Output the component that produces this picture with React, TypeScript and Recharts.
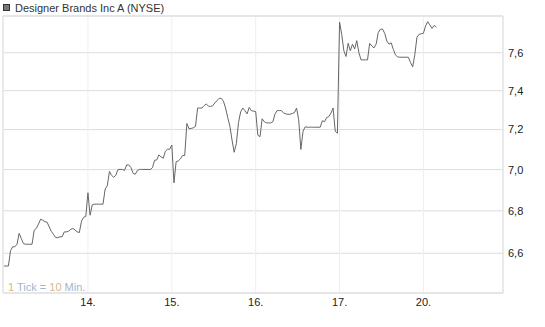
import { LineChart, Line, XAxis, YAxis, CartesianGrid, ReferenceArea } from 'recharts'

// 10-minute ticks, 39 per trading day
const prices = [
  6.541, 6.541, 6.541, 6.612, 6.63, 6.63, 6.642, 6.693, 6.669, 6.645,
  6.642, 6.642, 6.642, 6.642, 6.708, 6.716, 6.737, 6.76, 6.755, 6.748,
  6.746, 6.723, 6.702, 6.688, 6.673, 6.673, 6.677, 6.677, 6.7, 6.7,
  6.703, 6.712, 6.716, 6.709, 6.7, 6.697, 6.751, 6.769, 6.773,
  6.887, 6.779, 6.829, 6.832, 6.832, 6.832, 6.832, 6.832, 6.905, 6.921,
  6.991, 6.972, 6.962, 6.973, 7.001, 7.001, 7.001, 6.996, 7.023, 7.023,
  7.01, 6.982, 6.977, 6.996, 7.001, 7.001, 7.001, 7.001, 7.001, 7.0,
  7.01, 7.046, 7.048, 7.073, 7.063, 7.056, 7.091, 7.101, 7.101,
  7.122, 6.935, 7.039, 7.043, 7.053, 7.07, 7.07, 7.231, 7.204, 7.206,
  7.209, 7.216, 7.31, 7.31, 7.31, 7.322, 7.331, 7.32, 7.318, 7.322,
  7.336, 7.348, 7.36, 7.36, 7.345, 7.31, 7.261, 7.217, 7.147, 7.086,
  7.129, 7.235, 7.29, 7.31, 7.296, 7.28, 7.313, 7.296, 7.294,
  7.292, 7.172, 7.164, 7.255, 7.24, 7.234, 7.234, 7.234, 7.24, 7.28,
  7.297, 7.297, 7.297, 7.284, 7.28, 7.278, 7.278, 7.282, 7.286, 7.31,
  7.25, 7.1, 7.191, 7.214, 7.212, 7.212, 7.212, 7.212, 7.212, 7.212,
  7.212, 7.245, 7.24, 7.261, 7.266, 7.284, 7.31, 7.191, 7.182,
  7.766, 7.699, 7.61, 7.58, 7.651, 7.61, 7.646, 7.62, 7.665, 7.6,
  7.562, 7.562, 7.562, 7.562, 7.65, 7.636, 7.626, 7.646, 7.709, 7.727,
  7.727, 7.704, 7.662, 7.646, 7.653, 7.618, 7.588, 7.578, 7.576, 7.576,
  7.576, 7.576, 7.576, 7.548, 7.525, 7.59, 7.684, 7.699, 7.702,
  7.705, 7.745, 7.768, 7.75, 7.731, 7.748, 7.738,
]

const dayTicks = [39, 78, 117, 156, 195]
const dayLabels = ['14.', '15.', '16.', '17.', '20.']
const priceTicks = [6.6, 6.8, 7.0, 7.2, 7.4, 7.6]

const xDomain: [number, number] = [-0.5, 232]
const yDomain: [number, number] = [6.418, 7.799]

const data = prices.map((price, i) => ({ t: i, price }))

const font = '"Liberation Sans", Arial, sans-serif'

export default function App() {
  return (
    <div style={{ position: 'absolute', left: 0, top: 0, width: 545, height: 327, fontFamily: font, background: '#fff' }}>
      <div style={{ position: 'absolute', left: 3, top: 4, width: 5, height: 5, background: '#777', border: '1px solid #333' }} />
      <div style={{ position: 'absolute', left: 15, top: 1, fontSize: 11, lineHeight: '14px', color: '#333' }}>
        Designer Brands Inc A (NYSE)
      </div>
      <LineChart width={545} height={327} data={data} margin={{ top: 16, right: 0, left: 3, bottom: 0 }}>
        <CartesianGrid vertical={false} stroke="#ddd" />
        <CartesianGrid horizontal={false} stroke="#eee" />
        <ReferenceArea x1={xDomain[0]} x2={xDomain[1]} y1={yDomain[0]} y2={yDomain[1]} fill="none" stroke="#ddd" ifOverflow="visible" />
        <XAxis
          dataKey="t"
          type="number"
          domain={xDomain}
          ticks={dayTicks}
          tickFormatter={(v: number) => dayLabels[dayTicks.indexOf(v)]}
          height={34}
          axisLine={false}
          tickLine={false}
          tickSize={0}
          tickMargin={5}
          tick={{ fill: '#222', fontSize: 11, fontFamily: font }}
        />
        <YAxis
          orientation="right"
          scale="log"
          type="number"
          domain={yDomain}
          allowDataOverflow
          ticks={priceTicks}
          tickFormatter={(v: number) => v.toFixed(1).replace('.', ',')}
          width={42}
          axisLine={false}
          tickLine={false}
          tickSize={0}
          tickMargin={5}
          tick={{ fill: '#222', fontSize: 11, fontFamily: font, textAnchor: 'start' }}
        />
        <Line
          type="linear"
          dataKey="price"
          stroke="#666"
          strokeWidth={1}
          dot={false}
          isAnimationActive={false}
        />
      </LineChart>
      <div style={{ position: 'absolute', left: 8, top: 280, fontSize: 11, lineHeight: '14px', color: '#a3b5cc' }}>
        <span style={{ color: '#d4b88e' }}>1</span> Tick = <span style={{ color: '#d4b88e' }}>10</span> Min.
      </div>
    </div>
  )
}
